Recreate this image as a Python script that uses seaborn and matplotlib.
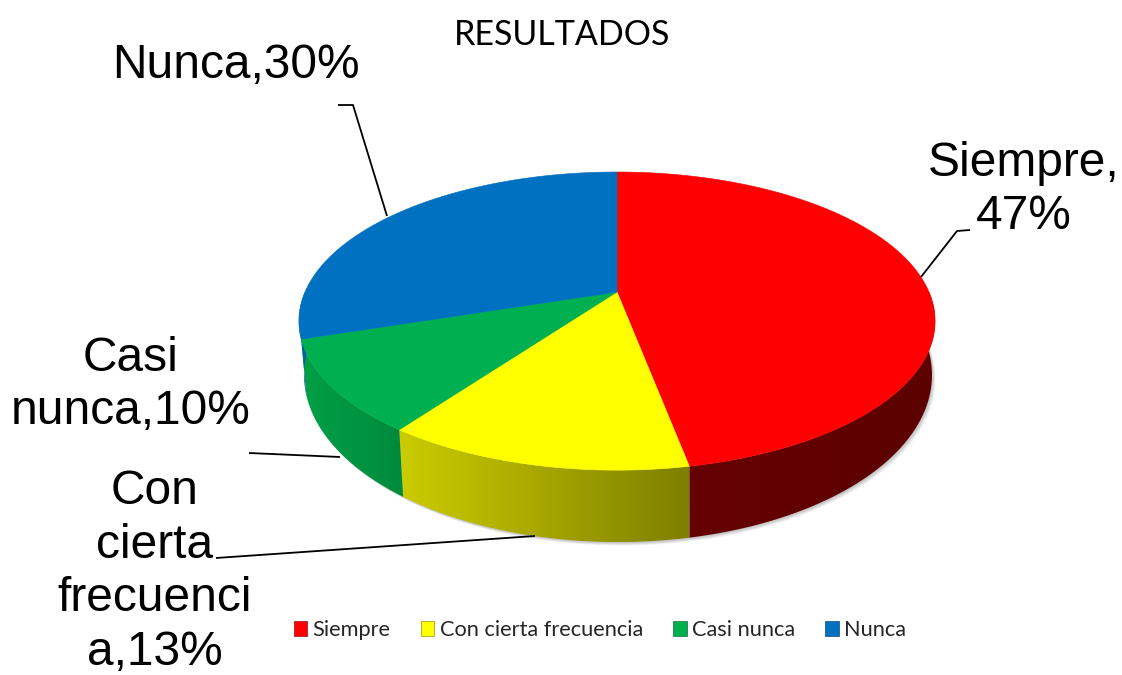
# %% Librerias
import numpy as np
import matplotlib
matplotlib.use("Agg")
import matplotlib.pyplot as plt
from matplotlib.colors import ListedColormap
from matplotlib.patches import Patch, Polygon
import seaborn as sns

# %% Datos
categorias = ["Siempre", "Con cierta frecuencia", "Casi nunca", "Nunca"]
valores = [47, 13, 10, 30]
colores = ["#ff0000", "#ffff00", "#00b050", "#0070c0"]
pared_izq = ["#660000", "#cccc00", "#00a046", "#005fa5"]
pared_der = ["#5c0000", "#7f7f00", "#008a3c", "#005fa5"]
titulo = "RESULTADOS"
etiquetas = ["Siempre,\n47%", "Con\ncierta\nfrecuenci\na,13%", "Casi\nnunca,10%", "Nunca,30%"]

# %% Geometria del pastel (px)
CX, CY = 617, 292
A, B, K = 312, 143.4, 0.195
CX2, CY2 = 618, 342.5
ESC_X, ESC_Y = 0.987, 1.12


def rim(ang, base=False):
    # ang en grados, sentido horario desde arriba
    t = np.radians(ang)
    den = 1 + K * np.cos(t)
    x = A * np.sin(t) / den
    y = B * np.cos(t) / den
    if base:
        return CX2 + ESC_X * x, CY2 - ESC_Y * y
    return CX + x, CY - y


sns.set_theme(style="white")
plt.rcParams["font.family"] = ["Liberation Sans", "DejaVu Sans"]

fig = plt.figure(figsize=(11.22, 6.75), dpi=100)
ax = fig.add_axes([0, 0, 1, 1])
ax.set_xlim(0, 1122)
ax.set_ylim(675, 0)
ax.axis("off")

cortes = np.concatenate([[0], np.cumsum(valores)]) * 3.6

# sombra bajo el pastel
todo = np.linspace(0, 360, 361)
xb, yb = rim(todo, base=True)
for d in [5, 4, 3, 2, 1]:
    ax.fill(xb + d * 0.7, yb + d * 0.7, color="black", alpha=0.05, lw=0, zorder=1)

# paredes laterales: solo la parte visible (90 a 270 grados), con degradado
for i in range(len(valores)):
    ini = max(cortes[i], 90)
    fin = min(cortes[i + 1], 270)
    if fin <= ini:
        continue
    angs = np.linspace(ini, fin, 200)
    x1, y1 = rim(angs)
    x2, y2 = rim(angs[::-1], base=True)
    xs = np.r_[x1, x2]
    ys = np.r_[y1, y2]
    pal = sns.blend_palette([pared_izq[i], pared_der[i]], 128)
    franja = np.linspace(0, 1, 128).reshape(1, -1)
    img = ax.imshow(franja, cmap=ListedColormap(pal), aspect="auto", zorder=2,
                    extent=(xs.min(), xs.max(), ys.max(), ys.min()))
    borde = Polygon(np.c_[xs, ys], closed=True, transform=ax.transData, fc="none", ec="none")
    ax.add_patch(borde)
    img.set_clip_path(borde)
ax.set_xlim(0, 1122)
ax.set_ylim(675, 0)

# cara superior
for i in range(len(valores)):
    angs = np.linspace(cortes[i], cortes[i + 1], 200)
    x, y = rim(angs)
    ax.fill(np.r_[CX, x], np.r_[CY, y], color=colores[i], lw=0.4, zorder=3)

# lineas guia
guias = [
    ([970, 957, 921], [230, 231, 277]),
    ([216, 535], [558, 536]),
    ([249, 340], [453, 457]),
    ([338, 353, 387], [105, 105, 216]),
]
for gx, gy in guias:
    ax.plot(gx, gy, color="black", lw=1.3, zorder=4, solid_capstyle="butt")

# etiquetas de datos
pos_etiq = [(1024, 190), (155, 572), (131, 385), (236, 66)]
for txt, (px, py) in zip(etiquetas, pos_etiq):
    ax.text(px, py, txt, fontsize=34.5, color="black", ha="center", va="center",
            multialignment="center", linespacing=1.25, zorder=5)

ax.text(562, 35, titulo, fontsize=24.5, family=["Lato", "DejaVu Sans"], color="black",
        ha="center", va="center")

# leyenda
handles = [Patch(facecolor=c, edgecolor=sns.dark_palette(c, 3)[1], lw=0.5) for c in colores]
ax.legend(handles, categorias, ncol=4, loc="center", bbox_to_anchor=(600 / 1122, 1 - 630 / 675),
          frameon=False, prop={"family": "Lato", "size": 15.7},
          handlelength=0.62, handleheight=0.7, handletextpad=0.25, columnspacing=1.38)

fig.savefig("out.png", dpi=100)
